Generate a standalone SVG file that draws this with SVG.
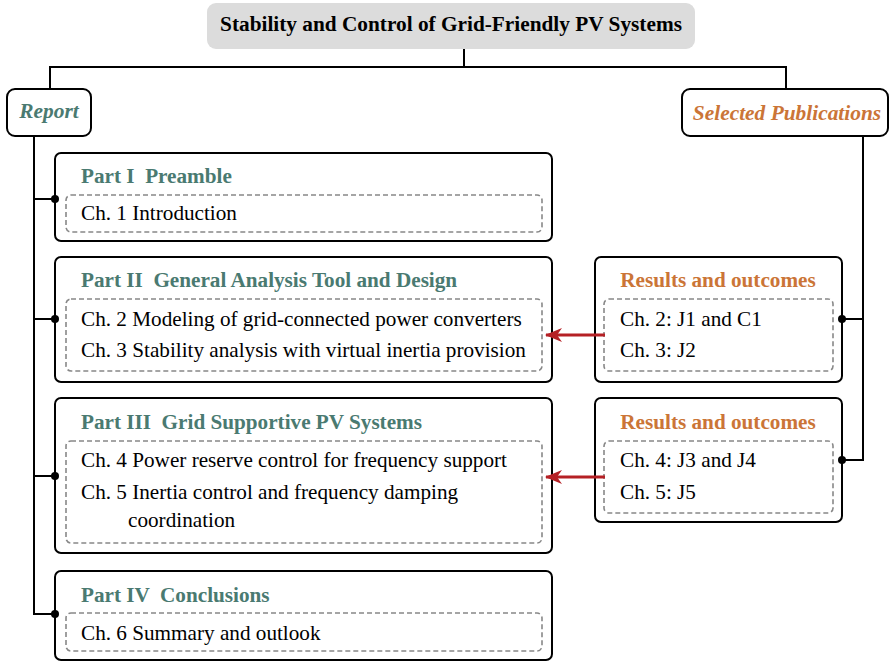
<svg xmlns="http://www.w3.org/2000/svg" width="890" height="661" viewBox="0 0 890 661" font-family="'Liberation Serif', 'Times New Roman', serif">
<defs>
<style>
.box{fill:#fff;stroke:#000;stroke-width:2}
.dash{fill:none;stroke:#888;stroke-width:1.6;stroke-dasharray:5 3}
.ln{fill:none;stroke:#000;stroke-width:2}
.red{fill:none;stroke:#b52025;stroke-width:3}
.dot{fill:#000}
text{font-family:'Liberation Serif','Times New Roman',serif;font-size:21.2px;fill:#000;white-space:pre}
.pt{font-weight:bold;fill:#4a7a71}
.rs{font-weight:bold;fill:#cb7537}
.ttl{font-weight:bold;font-size:21.3px}
.it{font-style:italic;font-weight:bold;font-size:21.4px}
</style>
<marker id="ah" viewBox="0 0 17 14" refX="16" refY="7" markerWidth="17" markerHeight="14" markerUnits="userSpaceOnUse" orient="auto">
<path d="M0,0 L17,7 L0,14 L5,7 Z" fill="#b52025"/>
</marker>
</defs>
<g id="title">
<rect x="207" y="3" width="488" height="46" rx="9" fill="#dcdcdc"/>
<text class="ttl" x="451" y="31" text-anchor="middle">Stability and Control of Grid-Friendly PV Systems</text>
</g>
<g id="report">
<rect class="box" x="7" y="89" width="84" height="47" rx="8"/>
<text class="it" x="49" y="118" text-anchor="middle" style="fill:#4a7a71">Report</text>
</g>
<g id="selected-publications">
<rect class="box" x="682" y="89" width="206" height="47" rx="8"/>
<text class="it" x="787" y="120" text-anchor="middle" style="fill:#cb7537">Selected Publications</text>
</g>
<g id="part1">
<rect class="box" x="55" y="153" width="497" height="88" rx="6"/>
<rect class="dash" x="66" y="195" width="476" height="37" rx="5"/>
<text class="pt" x="81" y="183" xml:space="preserve">Part I  Preamble</text>
<text x="81" y="220">Ch. 1 Introduction</text>
</g>
<g id="part2">
<rect class="box" x="55" y="257" width="497" height="125" rx="6"/>
<rect class="dash" x="66" y="299" width="476" height="72" rx="5"/>
<text class="pt" x="81" y="287" xml:space="preserve">Part II  General Analysis Tool and Design</text>
<text x="81" y="326">Ch. 2 Modeling of grid-connected power converters</text>
<text x="81" y="357">Ch. 3 Stability analysis with virtual inertia provision</text>
</g>
<g id="part3">
<rect class="box" x="55" y="398" width="497" height="155" rx="6"/>
<rect class="dash" x="66" y="441" width="476" height="102" rx="5"/>
<text class="pt" x="81" y="429" xml:space="preserve">Part III  Grid Supportive PV Systems</text>
<text x="81" y="467">Ch. 4 Power reserve control for frequency support</text>
<text x="81" y="499">Ch. 5 Inertia control and frequency damping</text>
<text x="128" y="527">coordination</text>
</g>
<g id="part4">
<rect class="box" x="55" y="571" width="497" height="89" rx="6"/>
<rect class="dash" x="66" y="613" width="476" height="38" rx="5"/>
<text class="pt" x="81" y="602" xml:space="preserve">Part IV  Conclusions</text>
<text x="81" y="640">Ch. 6 Summary and outlook</text>
</g>
<g id="results1">
<rect class="box" x="595" y="257" width="247" height="125" rx="6"/>
<rect class="dash" x="604" y="299" width="229" height="72" rx="5"/>
<text class="rs" x="718" y="287" text-anchor="middle">Results and outcomes</text>
<text x="620" y="326">Ch. 2: J1 and C1</text>
<text x="620" y="357">Ch. 3: J2</text>
</g>
<g id="results2">
<rect class="box" x="595" y="398" width="247" height="124" rx="6"/>
<rect class="dash" x="604" y="441" width="229" height="72" rx="5"/>
<text class="rs" x="718" y="429" text-anchor="middle">Results and outcomes</text>
<text x="620" y="467">Ch. 4: J3 and J4</text>
<text x="620" y="499">Ch. 5: J5</text>
</g>
<g id="connectors">
<path class="ln" d="M464,49 V67 M50,89 V67 H786 V89"/>
<path class="ln" d="M34,136 V614 H55 M34,199 H55 M34,319 H55 M34,476 H55"/>
<path class="ln" d="M863,136 V460 H842 M863,319 H842"/>
<circle class="dot" cx="55" cy="199" r="4"/>
<circle class="dot" cx="55" cy="319" r="4"/>
<circle class="dot" cx="55" cy="476" r="4"/>
<circle class="dot" cx="55" cy="614" r="4"/>
<circle class="dot" cx="842" cy="319" r="4"/>
<circle class="dot" cx="842" cy="460" r="4"/>
<line class="red" x1="605" y1="335" x2="546" y2="335" marker-end="url(#ah)"/>
<line class="red" x1="605" y1="477" x2="546" y2="477" marker-end="url(#ah)"/>
</g>
</svg>
